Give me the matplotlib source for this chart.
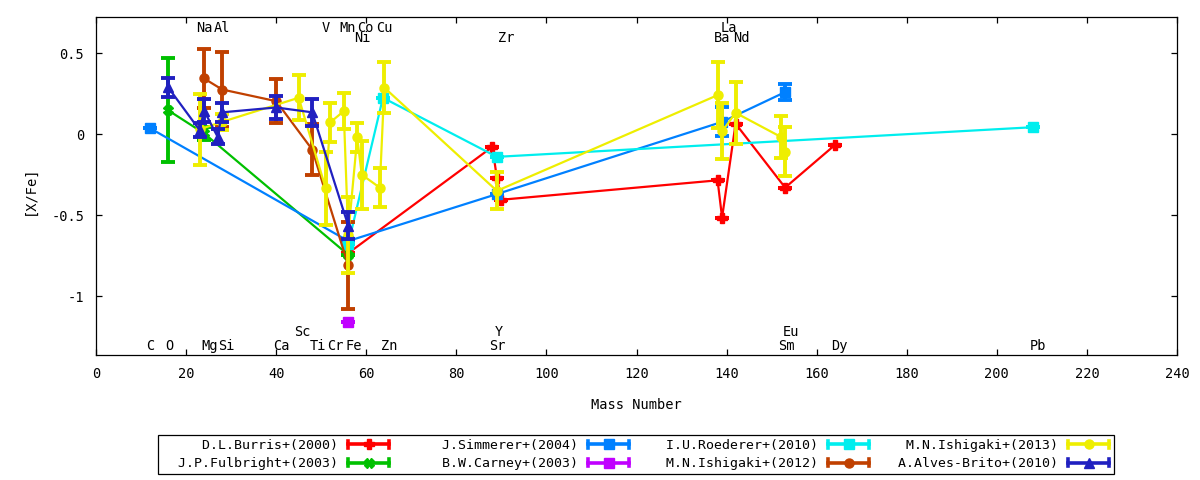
import matplotlib
matplotlib.use("Agg")
import matplotlib.pyplot as plt
from matplotlib.lines import Line2D
from matplotlib.legend_handler import HandlerBase
from matplotlib.container import ErrorbarContainer

plt.rcParams['font.family'] = ['DejaVu Sans Mono', 'DejaVu Sans']
plt.rcParams['font.size'] = 9.8

# ---------------- data ----------------
burris_x = [56, 88, 89, 90, 138, 139, 142, 153, 164]
burris_y = [-0.735, -0.078, -0.27, -0.405, -0.285, -0.515, 0.065, -0.33, -0.068]
burris_err = [0, 0, 0, 0, 0, 0, 0, 0, 0]

fulbright_x = [16, 24, 56]
fulbright_y = [0.148, 0.005, -0.745]
fulbright_err = [0.32, 0.04, 0.0]

simmerer_x = [12, 56, 89, 139, 153]
simmerer_y = [0.037, -0.66, -0.37, 0.076, 0.26]
simmerer_err = [0, 0, 0, 0.09, 0.05]

carney_x = [56]
carney_y = [-1.16]
carney_err = [0]

roederer_x = [56, 63.7, 89, 208]
roederer_y = [-0.68, 0.225, -0.14, 0.043]
roederer_err = [0, 0, 0, 0]

ishigaki12_x = [24, 28, 40, 48, 56]
ishigaki12_y = [0.344, 0.276, 0.204, -0.095, -0.81]
ishigaki12_err = [0.18, 0.23, 0.137, 0.158, 0.27]

ishigaki13_x = [23, 28, 45, 51, 52, 55, 56, 58, 59, 63, 64, 89, 138, 139, 142, 152, 153]
ishigaki13_y = [0.03, 0.076, 0.225, -0.335, 0.073, 0.142, -0.62, -0.02, -0.25, -0.33,
                0.288, -0.35, 0.241, 0.017, 0.132, -0.016, -0.107]
ishigaki13_err = [0.22, 0.05, 0.14, 0.226, 0.12, 0.112, 0.235, 0.09, 0.21, 0.12,
                  0.16, 0.115, 0.205, 0.173, 0.19, 0.13, 0.152]

alves_x = [16, 23, 24, 27, 28, 40, 48, 56]
alves_y = [0.29, 0.025, 0.145, -0.016, 0.135, 0.165, 0.135, -0.565]
alves_err = [0.06, 0.045, 0.07, 0.045, 0.06, 0.07, 0.085, 0.085]

series_labels = ["D.L.Burris+(2000)", "J.P.Fulbright+(2003)", "J.Simmerer+(2004)",
                 "B.W.Carney+(2003)", "I.U.Roederer+(2010)", "M.N.Ishigaki+(2012)",
                 "M.N.Ishigaki+(2013)", "A.Alves-Brito+(2010)"]

# element labels
bottom_labels = ["C", "O", "Mg", "Si", "Ca", "Ti", "Cr", "Fe", "Zn", "Sr", "Sm", "Dy", "Pb"]
bottom_label_x = [12.1, 16.2, 25.2, 29.0, 41.1, 49.3, 53.2, 57.2, 65.2, 89.1, 153.2, 165.0, 209.2]
bottom2_labels = ["Sc", "Y", "Eu"]
bottom2_label_x = [45.9, 89.5, 154.2]
top_labels = ["Na", "Al", "V", "Mn", "Co", "Cu", "La"]
top_label_x = [24.1, 28.0, 51.1, 55.9, 59.8, 64.1, 140.4]
top2_labels = ["Ni", "Zr", "Ba", "Nd"]
top2_label_x = [59.1, 91.1, 139.0, 143.2]

# ---------------- styles ----------------
colors = ['#ff0000', '#00c000', '#0080ff', '#c000ff', '#00eeee', '#c04000', '#eeee00', '#2020c0']
markers = ['P', 'X', 's', 's', 's', 'o', 'o', '^']
msizes = [7, 6.5, 6.8, 6.8, 6.8, 6.5, 6.5, 7.8]

fig = plt.figure(figsize=(12, 4.8), dpi=100)
ax = fig.add_axes([96/1200, 1-355/480, (1177-96)/1200, (355-17.3)/480])

data = [(burris_x, burris_y, burris_err),
        (fulbright_x, fulbright_y, fulbright_err),
        (simmerer_x, simmerer_y, simmerer_err),
        (carney_x, carney_y, carney_err),
        (roederer_x, roederer_y, roederer_err),
        (ishigaki12_x, ishigaki12_y, ishigaki12_err),
        (ishigaki13_x, ishigaki13_y, ishigaki13_err),
        (alves_x, alves_y, alves_err)]

containers = []
for i, (x, y, e) in enumerate(data):
    c = ax.errorbar(x, y, yerr=e, color=colors[i], marker=markers[i], ms=msizes[i],
                    lw=1.6, elinewidth=2.8, capsize=5.0, capthick=2.8,
                    label=series_labels[i].rjust(22), zorder=2 + i)
    containers.append(c)

ax.set_xlim(0, 240)
ax.set_ylim(-1.364, 0.722)
ax.set_xticks(range(0, 241, 20))
ax.set_yticks([-1, -0.5, 0, 0.5])
ax.set_yticklabels(['-1', '-0.5', '0', '0.5'])
ax.tick_params(direction='in', length=4.5, width=0.9, top=True, right=True, pad=8.5)
for s in ax.spines.values():
    s.set_linewidth(0.9)

ax.set_xlabel('Mass Number')
ax.xaxis.set_label_coords(0.5, -0.148)
ax.xaxis.label.set_va('center')
ax.set_ylabel('[X/Fe]')
ax.yaxis.set_label_coords(-0.061, 0.488)
ax.yaxis.label.set_va('center')
ax.yaxis.label.set_ha('center')

for lab, xv in zip(bottom_labels, bottom_label_x):
    ax.text(xv, -1.333, lab, ha='center', va='baseline', zorder=20)
for lab, xv in zip(bottom2_labels, bottom2_label_x):
    ax.text(xv, -1.247, lab, ha='center', va='baseline', zorder=20)
for lab, xv in zip(top_labels, top_label_x):
    ax.text(xv, 0.631, lab, ha='center', va='baseline', zorder=20)
for lab, xv in zip(top2_labels, top2_label_x):
    ax.text(xv, 0.57, lab, ha='center', va='baseline', zorder=20)


class ErrLineHandler(HandlerBase):
    def create_artists(self, legend, orig_handle, xdescent, ydescent, width, height,
                       fontsize, trans):
        ln = orig_handle.lines[0]
        c = ln.get_color()
        y = height / 2 - ydescent
        x0 = -xdescent + 1
        x1 = -xdescent + width - 1
        h = 2.6
        arts = [Line2D([x0, x1], [y, y], color=c, lw=2.6),
                Line2D([x0, x0], [y - h, y + h], color=c, lw=2.6),
                Line2D([x1, x1], [y - h, y + h], color=c, lw=2.6),
                Line2D([(x0 + x1) / 2], [y], marker=ln.get_marker(), ms=ln.get_markersize(),
                       color=c, ls='none')]
        for a in arts:
            a.set_transform(trans)
        return arts


leg = fig.legend(handles=containers, loc='upper center', bbox_to_anchor=(0.53, 0.094),
                 ncol=4, markerfirst=False, handler_map={ErrorbarContainer: ErrLineHandler()},
                 handlelength=3.3, handletextpad=0.7, columnspacing=0.85,
                 labelspacing=0.42, borderpad=0.3, borderaxespad=0, fancybox=False,
                 framealpha=1, edgecolor='black', fontsize=9.5)
leg.get_frame().set_linewidth(0.9)

fig.savefig('out.png', dpi=100)
